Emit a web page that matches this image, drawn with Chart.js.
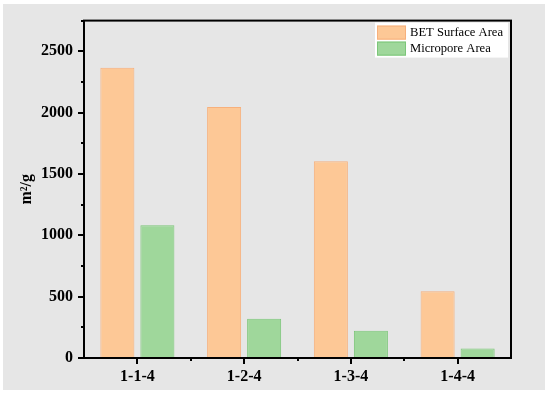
<!DOCTYPE html>
<html>
<head>
<meta charset="utf-8">
<script src="https://cdn.jsdelivr.net/npm/chart.js@4"></script>
<style>
  html, body { margin: 0; padding: 0; background: #ffffff; }
  #wrap { width: 550px; height: 394px; position: relative; }
</style>
</head>
<body>
<div id="wrap"><canvas id="bet"></canvas></div>
<script>
// Samples and measured areas (m2/g)
const samples = ['1-1-4', '1-2-4', '1-3-4', '1-4-4'];
const betArea = [2365, 2045, 1603, 545];
const microArea = [1082, 319, 223, 77];
const seriesNames = ['BET Surface Area', 'Micropore Area'];
const yTicksMajor = [0, 500, 1000, 1500, 2000, 2500];

const SERIF = "'Liberation Serif', 'Times New Roman', serif";
const COLORS = {
    orangeFill: '#fdc896',
    orangeLine: '#f7b07c',
    greenFill: '#9fd79b',
    greenLine: '#7cc679',
    panel: '#e6e6e6'
};

// Gray sheet, frame, tick marks and the boxed legend
const frameAndTicks = {
    id: 'frameAndTicks',
    beforeDraw(chart) {
        const ctx = chart.ctx;
        ctx.save();
        ctx.fillStyle = COLORS.panel;
        ctx.fillRect(3, 4, 542, 386);
        ctx.restore();
    },
    afterDraw(chart) {
        const ctx = chart.ctx;
        const a = chart.chartArea;
        const xs = chart.scales.x, ys = chart.scales.y;
        ctx.save();
        ctx.strokeStyle = '#000';
        ctx.lineWidth = 2;
        ctx.strokeRect(a.left, a.top, a.right - a.left, a.bottom - a.top);

        ctx.beginPath();
        ys.ticks.forEach(t => {
            const py = Math.round(ys.getPixelForValue(t.value));
            const len = yTicksMajor.includes(t.value) ? 6 : 3;
            ctx.moveTo(a.left - len, py);
            ctx.lineTo(a.left, py);
        });
        samples.forEach((s, i) => {
            const px = Math.round(xs.getPixelForValue(i));
            ctx.moveTo(px, a.bottom);
            ctx.lineTo(px, a.bottom + 6);
            if (i > 0) {
                const mid = Math.round((xs.getPixelForValue(i - 1) + px) / 2);
                ctx.moveTo(mid, a.bottom);
                ctx.lineTo(mid, a.bottom + 3);
            }
        });
        ctx.stroke();

        // legend
        const boxW = 133, boxH = 35;
        const bx = a.right - boxW - 3, by = a.top + 2;
        ctx.fillStyle = '#ffffff';
        ctx.fillRect(bx, by, boxW, boxH);
        ctx.font = '12.6px ' + SERIF;
        ctx.textBaseline = 'middle';
        chart.data.datasets.forEach((ds, i) => {
            const sy = by + 3 + i * 16;
            ctx.fillStyle = ds.backgroundColor;
            ctx.fillRect(bx + 2, sy, 29, 14);
            ctx.strokeStyle = ds.borderColor;
            ctx.lineWidth = 1;
            ctx.strokeRect(bx + 2.5, sy + 0.5, 28, 13);
            ctx.fillStyle = '#000';
            ctx.fillText(ds.label, bx + 35, sy + 7.5);
        });
        ctx.restore();
    }
};

new Chart(document.getElementById('bet'), {
    type: 'bar',
    data: {
        labels: samples,
        datasets: [
            {
                label: seriesNames[0],
                data: betArea,
                backgroundColor: COLORS.orangeFill,
                borderColor: COLORS.orangeLine,
                borderWidth: 1,
                borderSkipped: false
            },
            {
                label: seriesNames[1],
                data: microArea,
                backgroundColor: COLORS.greenFill,
                borderColor: COLORS.greenLine,
                borderWidth: 1,
                borderSkipped: false
            }
        ]
    },
    options: {
        responsive: true,
        maintainAspectRatio: false,
        animation: false,
        events: [],
        layout: { padding: { top: 13, right: 39, left: 0, bottom: 0 } },
        datasets: { bar: { categoryPercentage: 0.75, barPercentage: 0.85 } },
        plugins: {
            legend: { display: false },
            tooltip: { enabled: false }
        },
        scales: {
            x: {
                grid: { display: false, drawTicks: false },
                border: { display: false },
                ticks: {
                    color: '#000',
                    padding: 9,
                    font: { family: SERIF, size: 16, weight: 'bold' }
                },
                afterFit(scale) { scale.height = 36; }
            },
            y: {
                min: 0,
                max: 2750,
                grid: { display: false, drawTicks: false },
                border: { display: false },
                ticks: {
                    stepSize: 250,
                    color: '#000',
                    padding: 11,
                    font: { family: SERIF, size: 16, weight: 'bold' },
                    callback: v => yTicksMajor.includes(v) ? v : ''
                },
                title: {
                    display: true,
                    text: 'm²/g',
                    color: '#000',
                    padding: { top: 17, bottom: 0 },
                    font: { family: SERIF, size: 16, weight: 'bold' }
                },
                afterFit(scale) { scale.width = 84; }
            }
        }
    },
    plugins: [frameAndTicks]
});
</script>
</body>
</html>
